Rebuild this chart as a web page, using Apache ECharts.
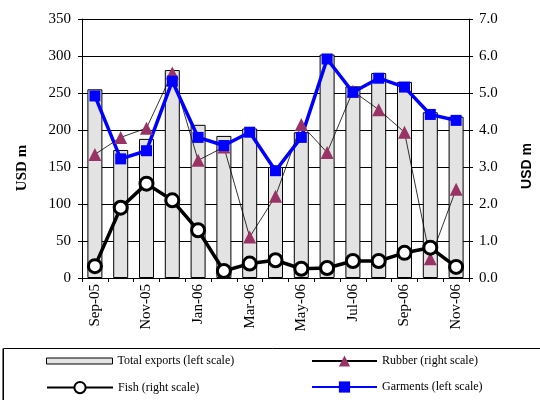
<!DOCTYPE html>
<html><head><meta charset="utf-8">
<script src="https://cdn.jsdelivr.net/npm/echarts@6/dist/echarts.min.js"></script>
<style>html,body{margin:0;padding:0;background:#fff}#c{width:540px;height:400px}</style>
</head><body><div id="c"></div>
<script>
const categories = ['Sep-05','Oct-05','Nov-05','Dec-05','Jan-06','Feb-06','Mar-06','Apr-06','May-06','Jun-06','Jul-06','Aug-06','Sep-06','Oct-06','Nov-06'];
const totalExports = [255,173,188,281,207,192,202,150,197,302,259,277,265,224,218];
const garments = [246,161,172,266,190,179,197,145,190,296,251,270,258,221,213];
const rubber = [3.34,3.80,4.05,5.54,3.18,3.54,1.11,2.21,4.15,3.39,5.05,4.55,3.94,0.52,2.40];
const fish = [0.32,1.90,2.55,2.10,1.29,0.19,0.39,0.48,0.25,0.27,0.46,0.46,0.68,0.82,0.30];
const leftTicks = {min:0,max:350,interval:50};
const rightTicks = {min:0,max:7,interval:1};

const serif = '"Liberation Serif","Times New Roman",serif';
const chart = echarts.init(document.getElementById('c'));
const legendText = {fontFamily: serif, fontSize: 12, color: '#000'};
chart.setOption({
  animation: false,
  grid: {left: 82, right: 71, top: 19, bottom: 122},
  xAxis: {
    type: 'category', data: categories, boundaryGap: true,
    axisLine: {lineStyle: {color: '#000', width: 1}},
    axisTick: {show: true, interval: 0, length: 4, lineStyle: {color: '#000'}},
    axisLabel: {interval: 1, rotate: 90, fontFamily: serif, fontSize: 15, color: '#000', margin: 6}
  },
  yAxis: [
    {type: 'value', min: leftTicks.min, max: leftTicks.max, interval: leftTicks.interval,
     axisLine: {show: true, lineStyle: {color: '#000'}},
     axisTick: {show: true, length: 4, lineStyle: {color: '#000'}},
     axisLabel: {fontFamily: serif, fontSize: 15, color: '#000', margin: 11},
     splitLine: {show: true, lineStyle: {color: '#000', width: 1}}},
    {type: 'value', min: rightTicks.min, max: rightTicks.max, interval: rightTicks.interval,
     axisLine: {show: true, lineStyle: {color: '#000'}},
     axisTick: {show: true, length: 4, lineStyle: {color: '#000'}},
     axisLabel: {fontFamily: serif, fontSize: 15, color: '#000', margin: 10,
       formatter: v => v.toFixed(1)},
     splitLine: {show: false}}
  ],
  legend: [
    {data: [{name: 'Total exports (left scale)', icon: 'rect', itemStyle: {borderWidth: 1, borderColor: '#000', color: '#e3e3e3'}}], left: 46, top: 355, padding: 0, itemWidth: 66, itemHeight: 6, textStyle: legendText},
    {data: ['Fish (right scale)'], left: 46, top: 381, padding: 0, itemWidth: 66, itemHeight: 14, textStyle: legendText},
    {data: ['Rubber (right scale)'], left: 311, top: 355, padding: 0, itemWidth: 65, itemHeight: 14, textStyle: legendText},
    {data: ['Garments (left scale)'], left: 311, top: 381, padding: 0, itemWidth: 65, itemHeight: 14, textStyle: legendText}
  ],
  graphic: [
    {type: 'rect', shape: {x: 3.5, y: 348.5, width: 560, height: 80}, style: {fill: 'none', stroke: '#000', lineWidth: 1}},
    {type: 'rect', shape: {x: 2, y: 348.5, width: 1, height: 80}, style: {fill: '#777'}},
    {type: 'text', x: 22, y: 168, rotation: Math.PI/2, style: {text: 'USD m', font: 'bold 15px "Liberation Serif", serif', fill: '#000', align: 'center', verticalAlign: 'middle'}},
    {type: 'text', x: 527, y: 166, rotation: Math.PI/2, style: {text: 'USD m', font: 'bold 14px "Liberation Sans", Arial, sans-serif', fill: '#000', align: 'center', verticalAlign: 'middle'}}
  ],
  series: [
    {name: 'Total exports (left scale)', type: 'bar', data: totalExports, yAxisIndex: 0, barWidth: 15,
     itemStyle: {color: '#e3e3e3', borderColor: '#000', borderWidth: 1}},
    {name: 'Rubber (right scale)', type: 'line', data: rubber, yAxisIndex: 1,
     symbol: 'triangle', symbolSize: 13,
     lineStyle: {color: '#000', width: 0.8}, itemStyle: {color: '#993366'}},
    {name: 'Fish (right scale)', type: 'line', data: fish, yAxisIndex: 1,
     symbol: 'circle', symbolSize: 13,
     lineStyle: {color: '#000', width: 3.5}, itemStyle: {color: '#fff', borderColor: '#000', borderWidth: 3}},
    {name: 'Garments (left scale)', type: 'line', data: garments, yAxisIndex: 0,
     symbol: 'rect', symbolSize: 11,
     lineStyle: {color: '#0000ff', width: 3.5}, itemStyle: {color: '#0000ff'}}
  ]
});
</script></body></html>
